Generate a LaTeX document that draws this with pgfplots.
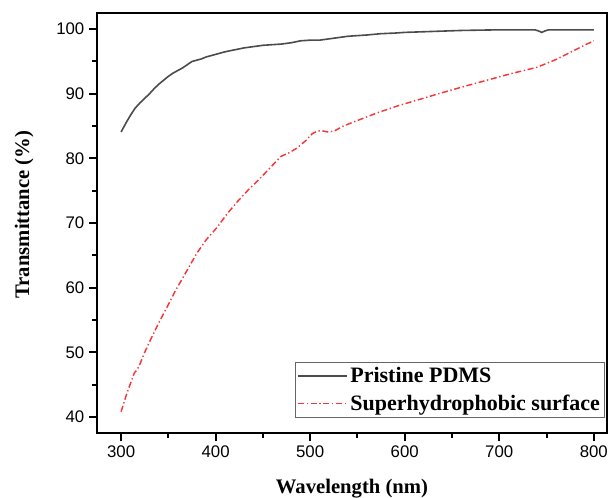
\documentclass[border=0pt]{standalone}
\usepackage{pgfplots}
\pgfplotsset{compat=1.18}
\usepackage{fontspec}
\setmainfont{Liberation Serif}
\newfontfamily\arialfont{Liberation Sans}

\definecolor{pdmsgray}{RGB}{75,75,75}
\definecolor{shred}{RGB}{245,55,55}

\begin{document}
\begin{tikzpicture}
\begin{axis}[
    name=ax,
    scale only axis,
    width=382.5pt, height=315pt,
    xmin=274.5, xmax=814, ymin=37.5, ymax=102.5,
    xtick={300,400,...,800}, ytick={40,50,...,100},
    minor x tick num=1, minor y tick num=1,
    tick align=outside, tick pos=left,
    major tick length=6pt, minor tick length=3.5pt,
    axis line style={line width=1.5pt},
    every tick/.style={line width=1.5pt, black},
    tick label style={font=\arialfont\fontsize{12.6}{14}\selectfont},
    /pgf/number format/assume math mode=true,
    label style={font=\bfseries\fontsize{15.5}{18}\selectfont},
    xlabel={Wavelength (nm)},
    ylabel={Transmittance (\%)},
    xlabel style={at={(axis description cs:0.5,-0.143)}, anchor=base},
    ylabel style={at={(axis description cs:-0.143,0.52)}, anchor=center},
    legend style={at={(axis description cs:0.996,0.036)}, anchor=south east,
        draw=black!60, line width=0.6pt, inner xsep=1.5pt, inner ysep=2pt,
        font=\bfseries\fontsize{16.5}{19}\selectfont, row sep=3.5pt},
    legend cell align=left,
    legend image code/.code={\draw[#1] (0pt,0pt) -- (36.75pt,0pt);},
]
\addplot[pdmsgray, line width=1.2pt] coordinates {
(300,84.1)(303,84.9)(306,85.7)(310,86.7)(315,87.8)(320,88.6)(325,89.3)(330,90.0)
(335,90.8)(340,91.5)(345,92.1)(350,92.7)(355,93.2)(360,93.6)(365,94.0)(370,94.5)
(375,95.0)(380,95.2)(385,95.4)(390,95.7)(395,95.9)(400,96.1)(410,96.5)(420,96.8)
(430,97.1)(440,97.3)(450,97.5)(460,97.6)(470,97.7)(480,97.9)(490,98.2)(500,98.3)
(510,98.3)(520,98.5)(530,98.7)(540,98.9)(550,99.0)(560,99.1)(575,99.3)(590,99.4)
(600,99.5)(620,99.6)(640,99.7)(660,99.8)(680,99.85)(700,99.9)(720,99.9)(738,99.9)
(742,99.7)(745,99.5)(748,99.7)(752,99.9)(770,99.9)(800,99.9)};
\addlegendentry{Pristine PDMS}
\addplot[shred, line width=1.1pt, dash pattern=on 4.5pt off 2pt on 1pt off 2pt] coordinates {
(300,40.8)(303,42.2)(306,43.6)(310,45.2)(314,46.8)(317,47.3)(320,48.2)(325,50.0)
(331,51.9)(340,54.6)(349,57.1)(357,59.4)(366,61.7)(373,63.5)(380,65.3)(390,67.4)
(402,69.4)(412,71.4)(423,73.3)(435,75.2)(447,76.9)(458,78.6)(469,80.3)(478,80.9)
(486,81.6)(495,82.7)(502,83.8)(507,84.2)(512,84.3)(518,84.1)(525,84.2)(535,85.0)
(547,85.7)(556,86.2)(570,87.0)(592,88.1)(615,89.1)(638,90.1)(662,91.1)(687,92.1)
(712,93.1)(740,94.1)(745,94.4)(760,95.3)(775,96.4)(790,97.5)(800,98.2)};
\addlegendentry{Superhydrophobic surface}
\end{axis}
\pgfresetboundingbox
\path (ax.south west) ++(-72.75pt,-48pt) rectangle ++(456.75pt,372.75pt);
\end{tikzpicture}
\end{document}
